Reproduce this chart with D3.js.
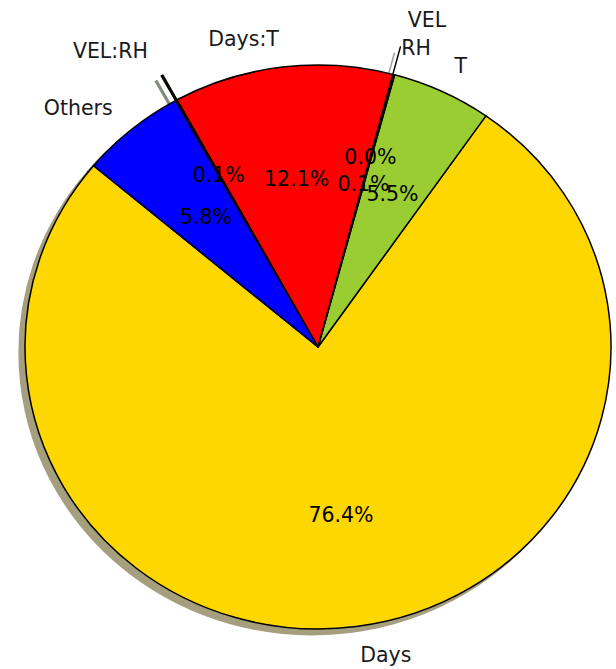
<!DOCTYPE html>
<html>
<head>
<meta charset="utf-8">
<script src="https://cdn.jsdelivr.net/npm/d3@7"></script>
<style>
  body { margin: 0; background: #fff; }
  text { font-family: "DejaVu Sans", sans-serif; }
</style>
</head>
<body>
<div id="chart"></div>
<script>
// slice data, counter-clockwise from the start angle
var labels  = ["Days", "T", "RH", "VEL", "Days:T", "VEL:RH", "Others"];
var values  = [76.4, 5.5, 0.1, 0.0, 12.1, 0.1, 5.8];
var explode = [0, 0, 0, 0.1, 0, 0.1, 0];
var colors  = ["gold", "yellowgreen", "purple", "pink", "red", "darkgreen", "blue"];

var width = 616, height = 669;
var startAngle = 140;      // degrees, matplotlib style
var shadowOff = -0.02;

var svg = d3.select("#chart").append("svg")
    .attr("width", width)
    .attr("height", height);

// data units -> pixels (pie is a bit squashed, not equal aspect)
var x = d3.scaleLinear().domain([-1, 1]).range([25, 611]);
var y = d3.scaleLinear().domain([-1, 1]).range([629, 65]);
var rx = x(1) - x(0), ry = y(0) - y(1);

var pie = d3.pie()
    .sort(null)
    .value(function(d) { return d; })
    .startAngle((90 - startAngle) * Math.PI / 180)
    .endAngle((90 - startAngle - 360) * Math.PI / 180);

var total = d3.sum(values);

var slices = pie(values).map(function(p, i) {
    // back to math angles (ccw from +x)
    var t1 = Math.PI / 2 - p.startAngle;
    var t2 = Math.PI / 2 - p.endAngle;
    var mid = (t1 + t2) / 2;
    return {
        label: labels[i],
        value: values[i],
        color: colors[i],
        t1: t1, t2: t2, mid: mid,
        cx: explode[i] * Math.cos(mid),
        cy: explode[i] * Math.sin(mid)
    };
});

function wedgePath(d, ox, oy) {
    var cx = d.cx + ox, cy = d.cy + oy;
    var large = (d.t2 - d.t1) > Math.PI ? 1 : 0;
    return "M" + x(cx) + "," + y(cy) +
        "L" + x(cx + Math.cos(d.t1)) + "," + y(cy + Math.sin(d.t1)) +
        "A" + rx + "," + ry + " 0 " + large + " 0 " +
        x(cx + Math.cos(d.t2)) + "," + y(cy + Math.sin(d.t2)) + "Z";
}

function shade(c) {
    var rgb = d3.rgb(c);
    return d3.rgb(rgb.r * 0.3, rgb.g * 0.3, rgb.b * 0.3).toString();
}

// shadows under everything
svg.append("g").selectAll(".shadow")
    .data(slices)
    .enter().append("path")
    .attr("class", "shadow")
    .attr("d", function(d) { return wedgePath(d, shadowOff, shadowOff); })
    .attr("fill", function(d) { return shade(d.color); })
    .attr("stroke", function(d) { return shade(d.color); })
    .attr("stroke-width", 1.5)
    .attr("opacity", 0.5);

var g = svg.append("g");

slices.forEach(function(d) {
    g.append("path")
        .attr("class", "wedge")
        .attr("d", wedgePath(d, 0, 0))
        .attr("fill", d.color)
        .attr("stroke", "black")
        .attr("stroke-width", 1.5)
        .attr("stroke-linejoin", "round");
});

slices.forEach(function(d) {
    var lx = d.cx + 1.1 * Math.cos(d.mid);
    var ly = d.cy + 1.1 * Math.sin(d.mid);
    g.append("text")
        .attr("x", x(lx))
        .attr("y", y(ly))
        .attr("dy", "0.36em")
        .attr("text-anchor", lx > 0 ? "start" : "end")
        .attr("font-size", "20.5px")
        .attr("fill", "#1a1a1a")
        .text(d.label);

    var px = d.cx + 0.6 * Math.cos(d.mid);
    var py = d.cy + 0.6 * Math.sin(d.mid);
    g.append("text")
        .attr("x", x(px))
        .attr("y", y(py))
        .attr("dy", "0.36em")
        .attr("text-anchor", "middle")
        .attr("font-size", "20.5px")
        .attr("fill", "#000")
        .text((d.value / total * 100).toFixed(1) + "%");
});
</script>
</body>
</html>
